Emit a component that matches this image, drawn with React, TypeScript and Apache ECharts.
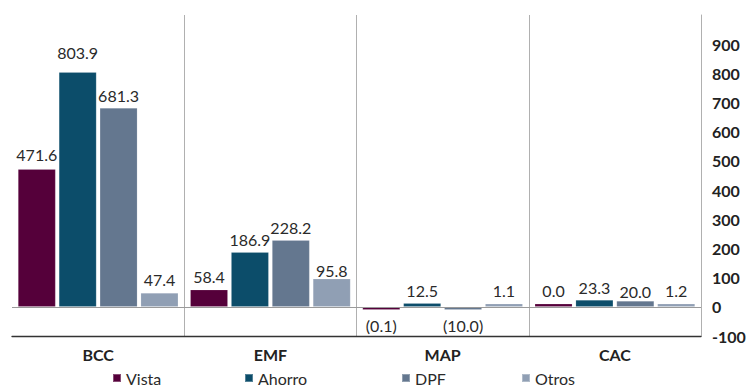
import React, { useEffect, useRef } from "react";
import * as echarts from "echarts";

const categories = ["BCC", "EMF", "MAP", "CAC"];
const seriesNames = ["Vista", "Ahorro", "DPF", "Otros"];
const vista = [471.6, 58.4, -0.1, 0.0];
const ahorro = [803.9, 186.9, 12.5, 23.3];
const dpf = [681.3, 228.2, -10.0, 20.0];
const otros = [47.4, 95.8, 1.1, 1.2];
const colors = ["#55003a", "#0c4d6a", "#64778f", "#909fb4"];

// left edge of each legend entry along the bottom row
const legendLeft = [112, 244, 401, 521];

// small vertical nudges for a few value labels (series index -> category index -> dy)
const labelNudge: Record<string, number> = {
  "0-0": -2,
  "1-0": -7,
  "3-1": 5,
  "2-3": 4,
};

const FONT = "Lato, 'Open Sans', sans-serif";
const fmt = (v: number) => (v < 0 ? `(${Math.abs(v).toFixed(1)})` : v.toFixed(1));

export default function App() {
  const ref = useRef<HTMLDivElement>(null);

  useEffect(() => {
    if (!ref.current) return;
    const chart = echarts.init(ref.current, undefined, { renderer: "svg" });
    const all = [vista, ahorro, dpf, otros];

    const series = all.map((vals, si) => ({
      name: seriesNames[si],
      type: "bar" as const,
      barGap: "9%",
      barCategoryGap: "7%",
      barMinHeight: 3,
      itemStyle: { color: colors[si], borderColor: "rgba(255,255,255,0.3)", borderWidth: 0.5 },
      label: {
        show: true,
        position: "top",
        distance: 5,
        fontFamily: FONT,
        fontSize: 16,
        color: "#2a2a2a",
        formatter: (p: any) => fmt(p.value),
      },
      data: vals.map((v, ci) => {
        const dy = labelNudge[`${si}-${ci}`] || 0;
        if (v < 0) {
          return { value: v, label: { position: "bottom", distance: 8 } };
        }
        return dy ? { value: v, label: { offset: [0, dy] } } : { value: v };
      }),
      markLine:
        si === 0
          ? {
              silent: true,
              symbol: "none",
              label: { show: false },
              lineStyle: { color: "#9a9a9a", width: 1, type: "solid" },
              data: [{ yAxis: 0 }],
            }
          : undefined,
    }));

    const legend = seriesNames.map((name, i) => ({
      data: [name],
      top: 369,
      left: legendLeft[i],
      padding: 0,
      itemWidth: 8,
      itemHeight: 8,
      icon: "rect",
      textStyle: { fontFamily: FONT, fontSize: 16, lineHeight: 18, color: "#2a2a2a" },
    }));

    chart.setOption({
      animation: false,
      textStyle: { fontFamily: FONT },
      legend,
      grid: { left: 12, right: 49, top: 15, bottom: 50 },
      xAxis: {
        type: "category",
        data: categories,
        position: "bottom",
        axisLine: { onZero: false, lineStyle: { color: "#333", width: 1.3 } },
        axisTick: { show: false },
        axisLabel: {
          margin: 10,
          fontFamily: FONT,
          fontSize: 16,
          fontWeight: "bold",
          color: "#222",
        },
        splitLine: {
          show: true,
          showMinLine: false,
          lineStyle: { color: "#b0b0b0", width: 1 },
        },
      },
      yAxis: {
        type: "value",
        position: "right",
        min: -100,
        max: 1000,
        interval: 100,
        axisLine: { show: true, lineStyle: { color: "#b0b0b0", width: 1 } },
        axisTick: { show: false },
        splitLine: { show: false },
        axisLabel: {
          margin: 11,
          align: "left",
          fontFamily: FONT,
          fontSize: 16,
          fontWeight: "bold",
          color: "#222",
          formatter: (v: number) => (v === 1000 ? "" : String(v)),
        },
      },
      series,
    });

    return () => chart.dispose();
  }, []);

  return <div ref={ref} style={{ width: 750, height: 386, position: "absolute", left: 0, top: 0 }} />;
}
